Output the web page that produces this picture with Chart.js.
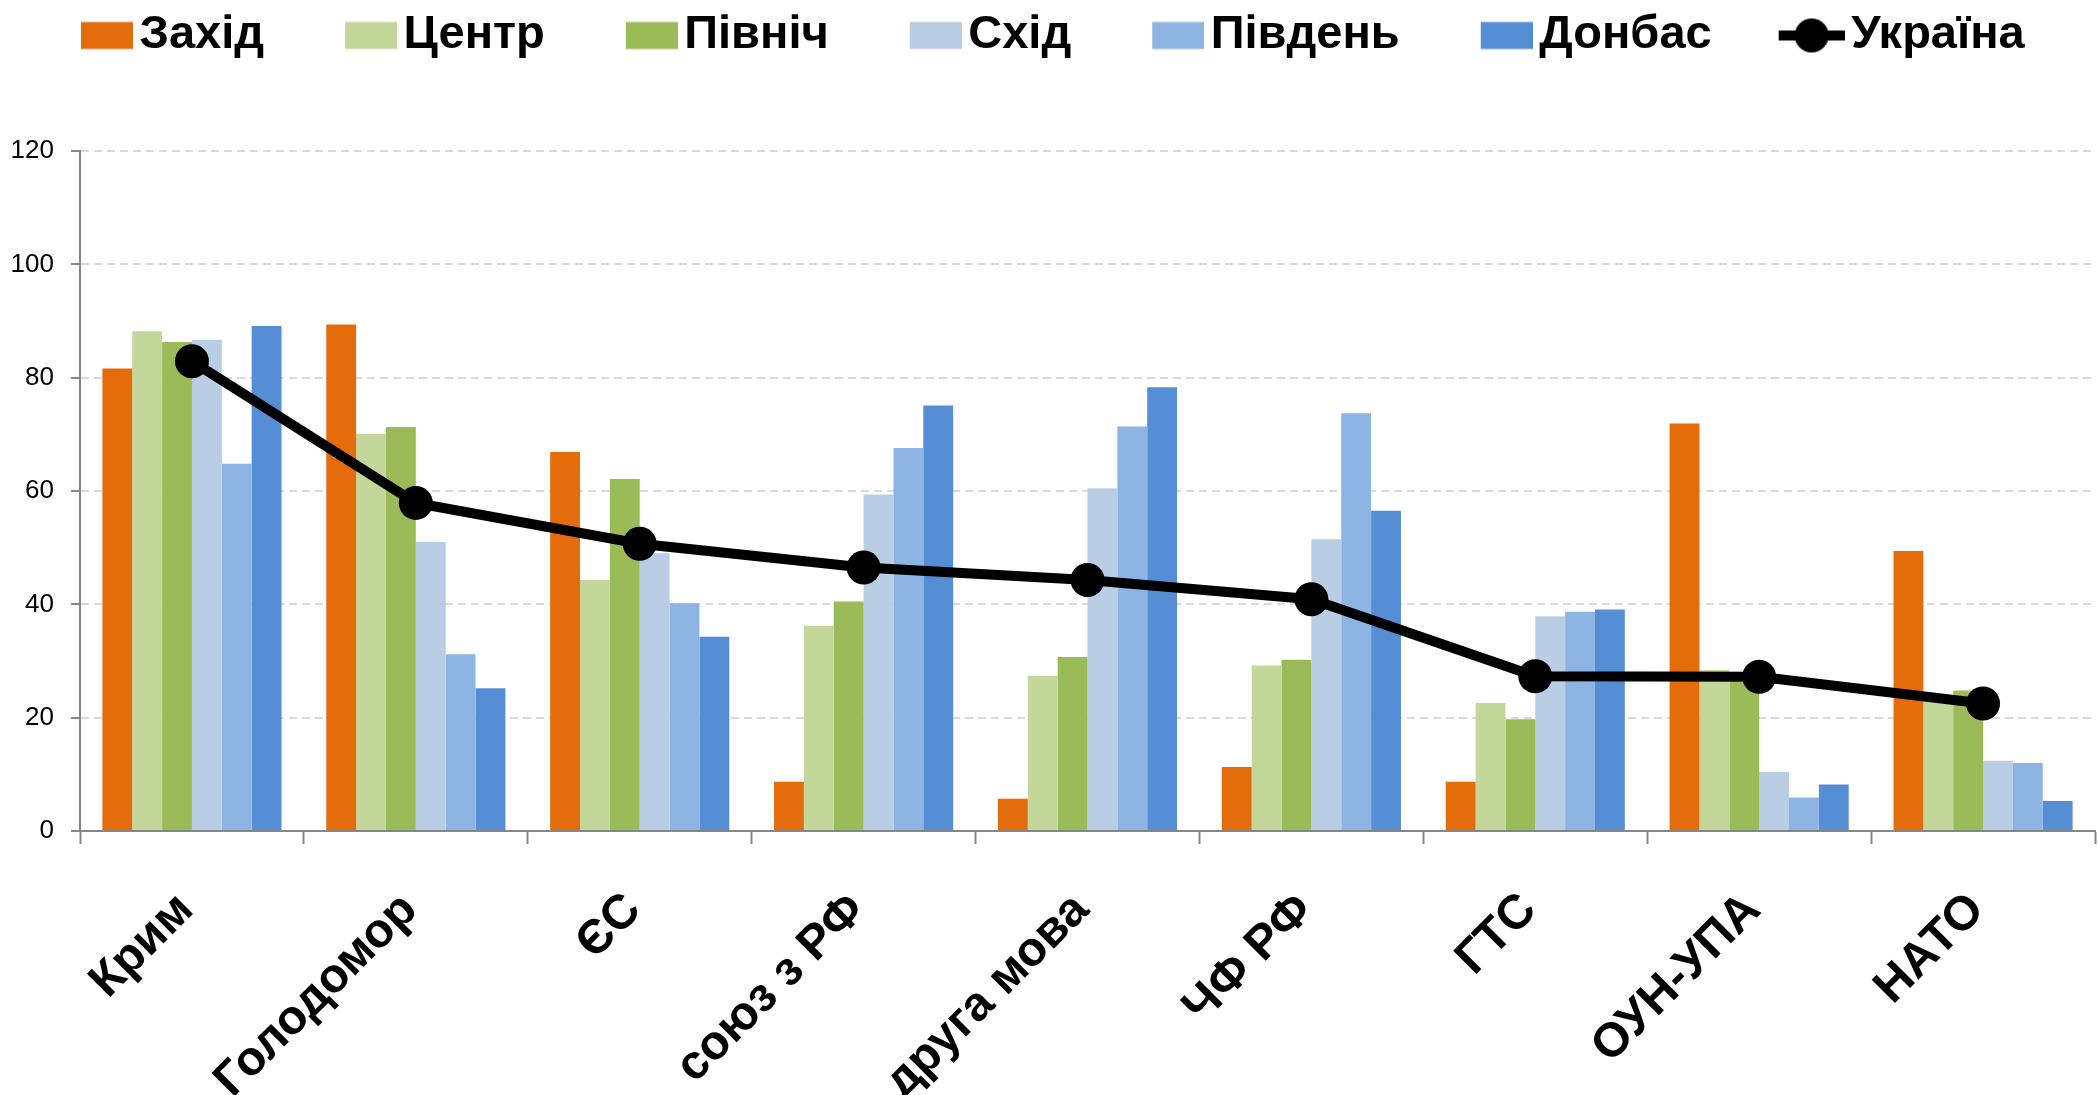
<!DOCTYPE html>
<html>
<head>
<meta charset="utf-8">
<script src="https://cdn.jsdelivr.net/npm/chart.js@4/dist/chart.umd.min.js"></script>
<style>
  body { margin: 0; background: #fff; overflow: hidden; }
</style>
</head>
<body>
<canvas id="chart" width="2098" height="1095"></canvas>
<script>
var categories = ['Крим', 'Голодомор', 'ЄС', 'союз з РФ', 'друга мова', 'ЧФ РФ', 'ГТС', 'ОУН-УПА', 'НАТО'];

var zakhid  = [81.6, 89.4, 66.9,  8.7,  5.7, 11.3,  8.7, 71.9, 49.4];
var tsentr  = [88.2, 70.1, 44.3, 36.2, 27.4, 29.2, 22.6, 28.4, 23.0];
var pivnich = [86.3, 71.3, 62.1, 40.5, 30.7, 30.2, 19.7, 27.0, 24.8];
var skhid   = [86.7, 51.0, 49.0, 59.4, 60.5, 51.5, 37.9, 10.4, 12.4];
var pivden  = [64.8, 31.2, 40.2, 67.6, 71.4, 73.7, 38.7,  5.9, 12.0];
var donbas  = [89.1, 25.2, 34.3, 75.1, 78.3, 56.5, 39.1,  8.2,  5.3];
var ukraina = [82.9, 57.9, 50.7, 46.5, 44.3, 40.9, 27.3, 27.2, 22.5];

var yTicks = [0, 20, 40, 60, 80, 100, 120];

var FONT = "'Liberation Sans', Arial, sans-serif";
var ICON_W = 138;
var ICON_H = 40;

// legend icons: coloured box / line with dot, pushed to the right of the icon canvas
function boxIcon(color) {
  var c = document.createElement('canvas');
  c.width = ICON_W; c.height = ICON_H;
  var g = c.getContext('2d');
  g.fillStyle = color;
  g.fillRect(ICON_W - 52, (ICON_H - 27) / 2, 52, 27);
  return c;
}

function lineIcon(color) {
  var c = document.createElement('canvas');
  c.width = ICON_W; c.height = ICON_H;
  var g = c.getContext('2d');
  g.strokeStyle = color;
  g.lineWidth = 10;
  g.beginPath();
  g.moveTo(ICON_W - 66, ICON_H / 2);
  g.lineTo(ICON_W, ICON_H / 2);
  g.stroke();
  g.fillStyle = color;
  g.beginPath();
  g.arc(ICON_W - 33, ICON_H / 2, 17, 0, Math.PI * 2);
  g.fill();
  return c;
}

function barSet(label, data, color) {
  return {
    type: 'bar',
    label: label,
    data: data,
    backgroundColor: color,
    borderWidth: 0,
    barPercentage: 1.0,
    categoryPercentage: 0.8,
    order: 1
  };
}

var datasets = [
  barSet('Захід', zakhid, '#E46C0A'),
  barSet('Центр', tsentr, '#C4D79B'),
  barSet('Північ', pivnich, '#9BBB59'),
  barSet('Схід', skhid, '#B9CDE5'),
  barSet('Південь', pivden, '#8EB4E3'),
  barSet('Донбас', donbas, '#558ED5'),
  {
    type: 'line',
    label: 'Україна',
    data: ukraina,
    borderColor: '#000',
    backgroundColor: '#000',
    borderWidth: 10,
    pointRadius: 17,
    pointHoverRadius: 17,
    pointBackgroundColor: '#000',
    pointBorderWidth: 0,
    tension: 0,
    order: 0
  }
];

// make room between legend and plot
var legendHeight = {
  id: 'legendHeight',
  beforeInit: function(chart) {
    var fit = chart.legend.fit;
    chart.legend.fit = function() {
      fit.bind(chart.legend)();
      this.height = 151;
    };
  }
};

var ctx = document.getElementById('chart').getContext('2d');
var chart = new Chart(ctx, {
  type: 'bar',
  data: { labels: categories, datasets: datasets },
  plugins: [legendHeight],
  options: {
    responsive: false,
    animation: false,
    devicePixelRatio: 1,
    layout: { autoPadding: false, padding: { right: 3 } },
    plugins: {
      tooltip: { enabled: false },
      legend: {
        display: true,
        position: 'top',
        align: 'start',
        labels: {
          usePointStyle: true,
          pointStyleWidth: ICON_W - 34,
          padding: 12,
          color: '#000',
          font: { family: FONT, size: 47, weight: 'bold' },
          generateLabels: function(chart) {
            return chart.data.datasets.map(function(ds, i) {
              return {
                text: ds.label,
                datasetIndex: i,
                fontColor: '#000',
                hidden: false,
                lineWidth: 0,
                strokeStyle: 'rgba(0,0,0,0)',
                fillStyle: ds.backgroundColor,
                pointStyle: ds.type === 'line' ? lineIcon(ds.borderColor) : boxIcon(ds.backgroundColor)
              };
            });
          }
        }
      }
    },
    scales: {
      x: {
        grid: {
          offset: true,
          drawOnChartArea: false,
          drawTicks: true,
          tickLength: 13,
          tickColor: '#868686',
          tickWidth: 2
        },
        border: { color: '#868686', width: 2 },
        ticks: {
          autoSkip: false,
          maxRotation: 45,
          minRotation: 45,
          padding: 38,
          labelOffset: -6,
          color: '#000',
          font: { family: FONT, size: 48, weight: 'bold' }
        },
        afterFit: function(scale) {
          scale.height = 264;
          scale.paddingLeft = 0;
          scale.paddingRight = 0;
        }
      },
      y: {
        min: 0,
        max: 120,
        afterBuildTicks: function(scale) {
          scale.ticks = yTicks.map(function(v) { return { value: v }; });
        },
        grid: {
          color: '#d9d9d9',
          lineWidth: 2,
          tickLength: 9,
          tickColor: '#868686',
          tickWidth: 2
        },
        border: { color: '#868686', width: 2, dash: [8, 5] },
        ticks: {
          padding: 17,
          color: '#000',
          font: { family: FONT, size: 26 }
        },
        afterFit: function(scale) {
          scale.width = 80;
        }
      }
    }
  }
});
</script>
</body>
</html>
